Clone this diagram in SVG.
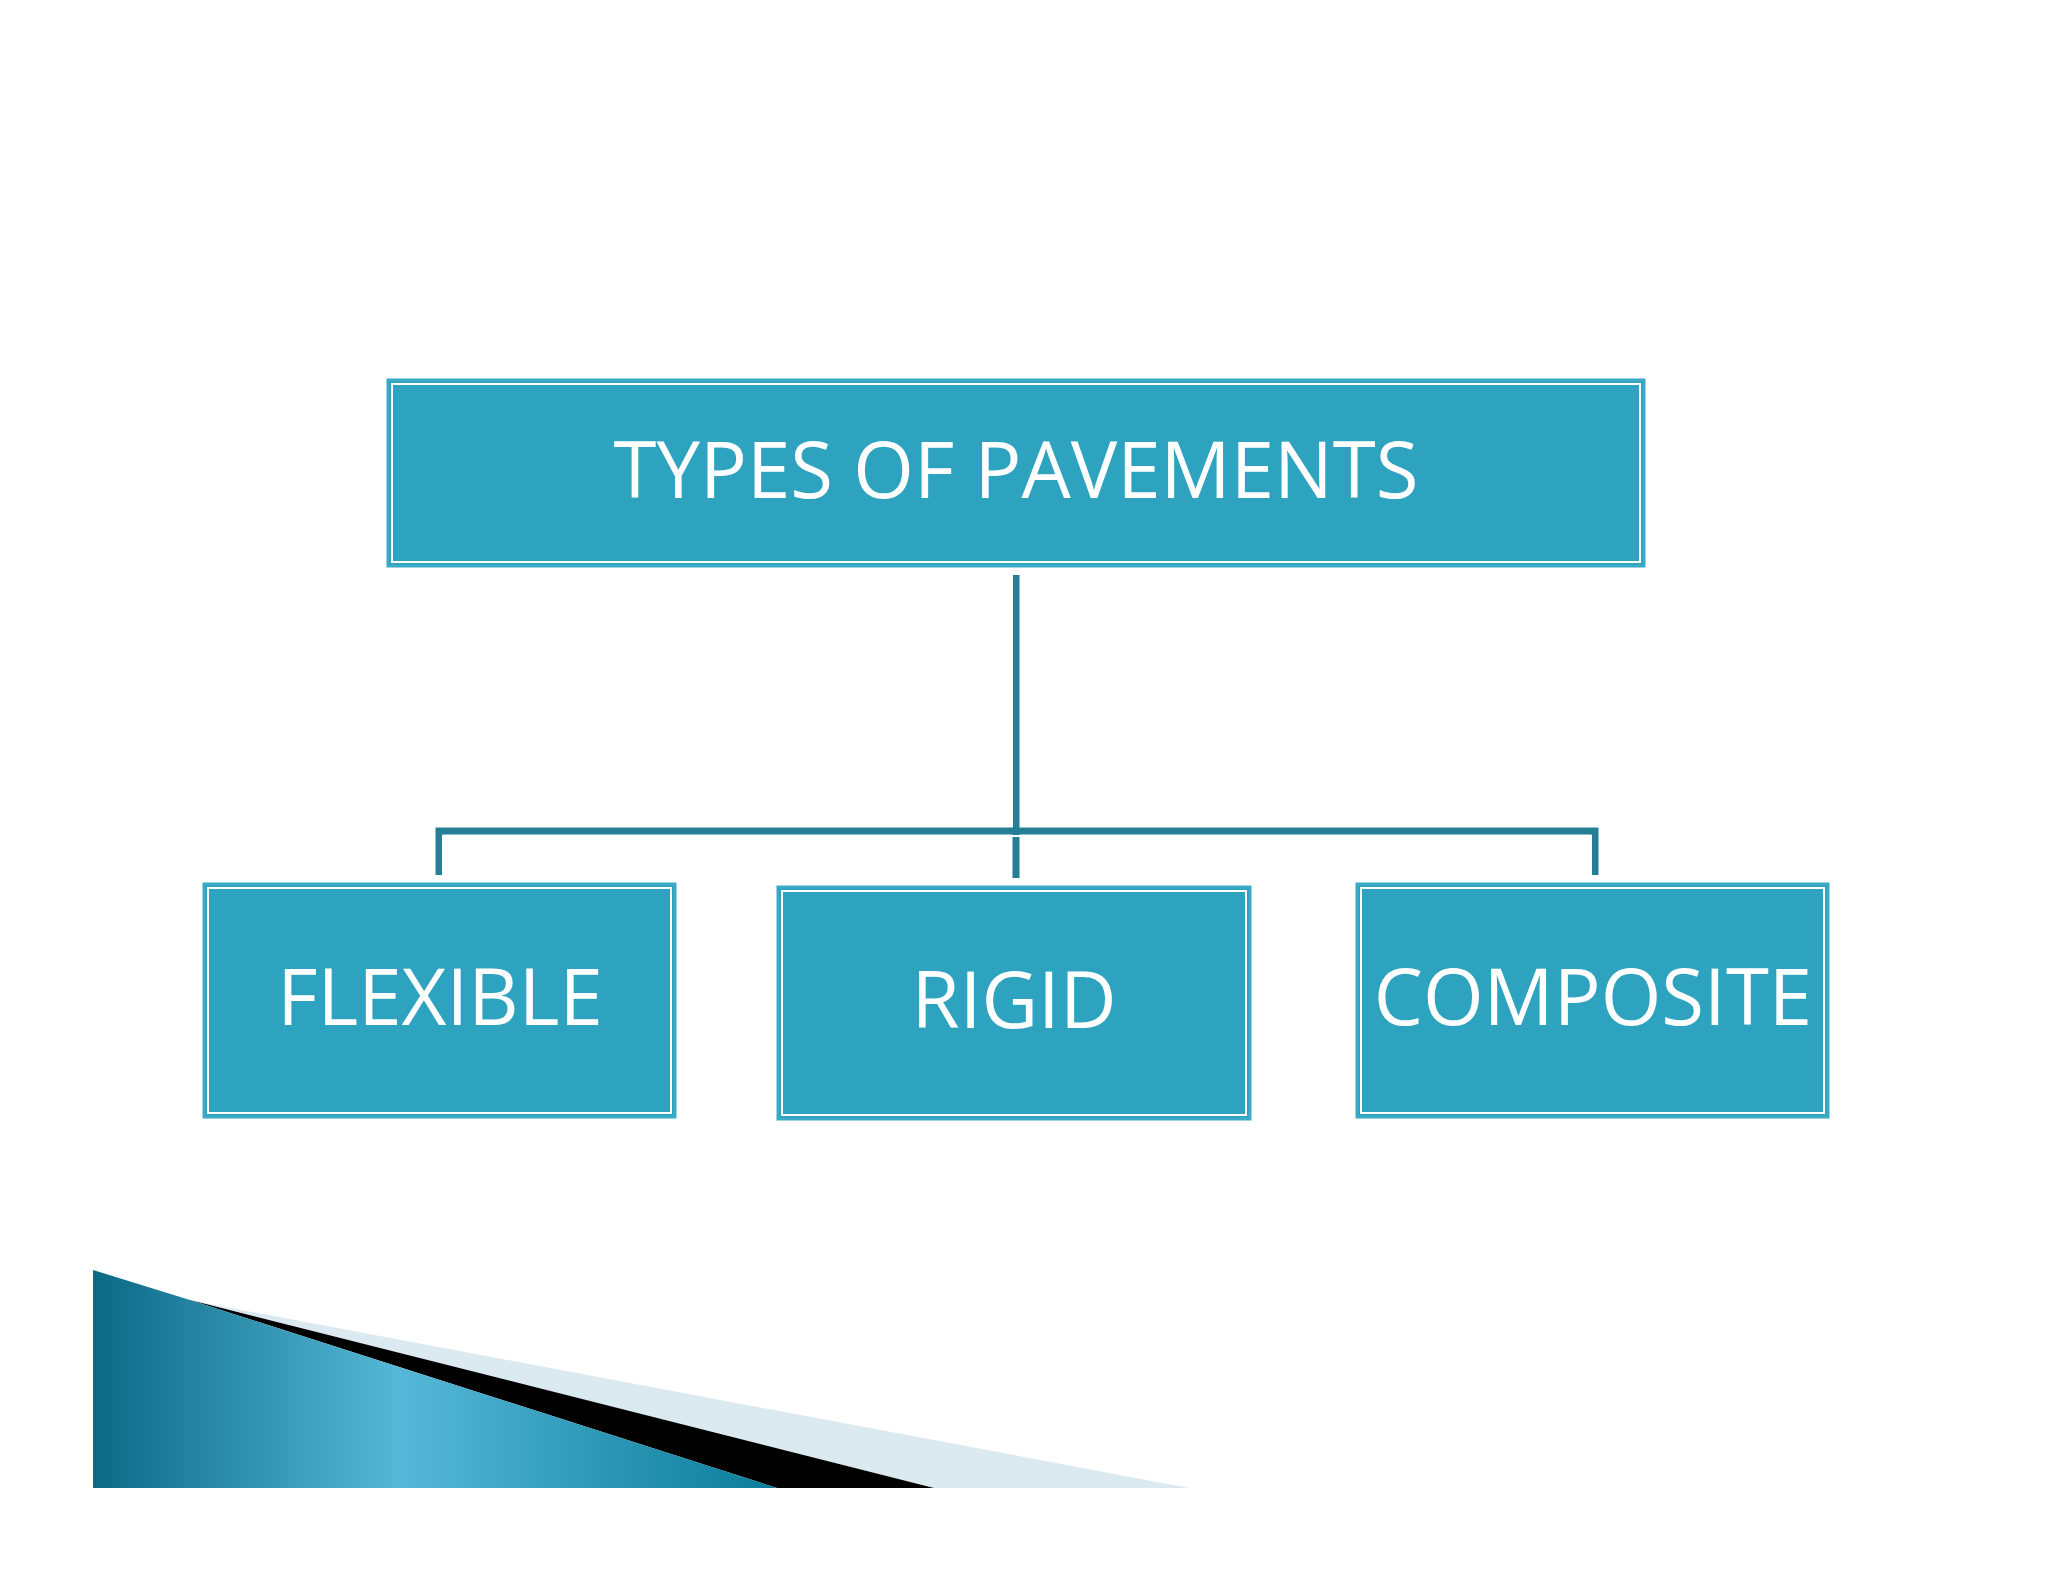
<svg xmlns="http://www.w3.org/2000/svg" width="2048" height="1582" viewBox="0 0 2048 1582">
<defs>
<style>
.box{fill:#2ea3c0;stroke:#3aaac6;stroke-width:3}
.inner{fill:none;stroke:#ffffff;stroke-width:2}
.lbl{font-family:"Open Sans","Noto Sans",sans-serif;font-size:78px;fill:#ffffff;text-anchor:middle}
.con{fill:none;stroke:#237e96;stroke-width:7}
.conhi{fill:none;stroke:#ffffff;stroke-width:2}
</style>
<linearGradient id="bg" x1="0" y1="0" x2="1" y2="0">
<stop offset="0" stop-color="#0a6a86"/>
<stop offset="0.45" stop-color="#56b8d8"/>
<stop offset="1" stop-color="#0a7c99"/>
</linearGradient>
</defs>
<rect width="2048" height="1582" fill="#ffffff"/>
<g id="decor">
<polygon points="183,1299 1189,1488 934,1488" fill="#dbeaf0"/>
<polygon points="190,1300 934,1488 777,1488" fill="#000000"/>
<polygon points="93,1270 190,1300 777,1488 93,1488" fill="url(#bg)"/>
</g>
<g id="connectors">
<path class="con" d="M1016,575 V831 M439,875 V831 H1595 V875 M1016,831 V878"/>
<path class="conhi" d="M1012,575 V827 M443,875 V836 H1591 V875"/>
</g>
<g id="root">
<rect class="box" x="388" y="380" width="1256" height="186"/>
<rect class="inner" x="392" y="384" width="1248" height="178"/>
<text class="lbl" x="1016" y="498">TYPES OF PAVEMENTS</text>
</g>
<g id="flexible">
<rect class="box" x="204" y="884" width="471" height="233"/>
<rect class="inner" x="208" y="888" width="463" height="225"/>
<text class="lbl" x="440" y="1025">FLEXIBLE</text>
</g>
<g id="rigid">
<rect class="box" x="778" y="887" width="472" height="232"/>
<rect class="inner" x="782" y="891" width="464" height="224"/>
<text class="lbl" x="1014" y="1028">RIGID</text>
</g>
<g id="composite">
<rect class="box" x="1357" y="884" width="471" height="233"/>
<rect class="inner" x="1361" y="888" width="463" height="225"/>
<text class="lbl" x="1593" y="1025">COMPOSITE</text>
</g>
</svg>
